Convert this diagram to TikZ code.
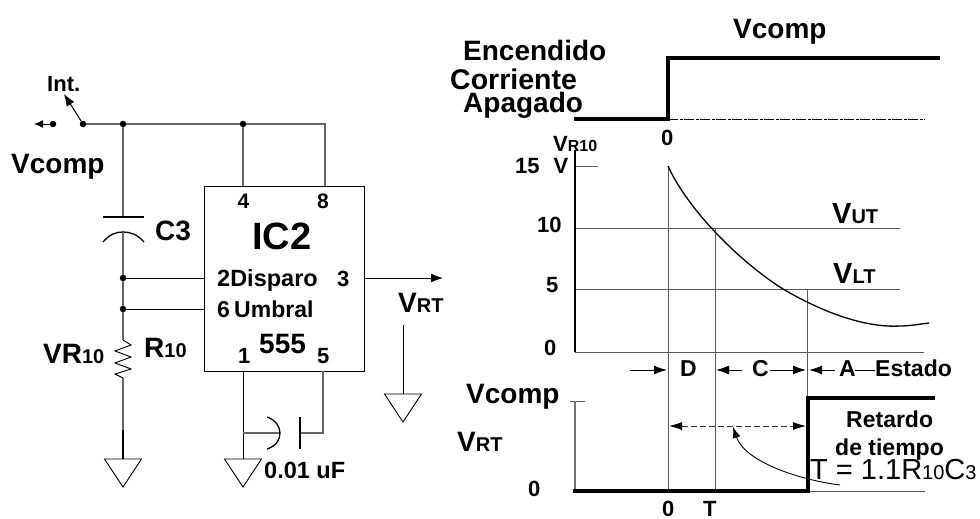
\documentclass[tikz,border=0pt]{standalone}
\usepackage{fontspec}
\setmainfont{Liberation Sans}
\usetikzlibrary{arrows.meta,decorations.pathmorphing}
\newcommand{\fs}[1]{\fontsize{#1}{#1}\selectfont}
\newcommand{\sm}[1]{{\fs{20}#1}}
\tikzset{
 lbl/.style={anchor=base west,inner sep=0pt,font=\fs{#1}\bfseries},
 lbl/.default=23,
 reg/.style={anchor=base west,inner sep=0pt,font=\fs{#1}},
 wire/.style={line width=1pt,black},
 gwire/.style={line width=1.4pt,black!60},
 grid line/.style={line width=0.8pt,black!65},
 heavy/.style={line width=3.5pt,black,line join=miter},
 tipped/.style={line width=1pt,-{Latex[length=13pt,width=9pt]}},
 smalltip/.style={line width=1pt,-{Latex[length=9pt,width=8pt]}},
 joint/.style={circle,fill=black,inner sep=0pt,minimum size=6.5pt},
 gnd/.style={line width=0.9pt,black,line join=miter},
}
\newcommand{\ground}[2]{\draw[gnd] (#1-18.5,#2) -- (#1+18.5,#2) -- (#1,#2+28) -- cycle;}
\begin{document}
\begin{tikzpicture}[x=1pt,y=-1pt]
\useasboundingbox (0,0) rectangle (980,519);
% --- circuit
\node[draw,wire,inner sep=0pt,anchor=north west,minimum width=160pt,minimum height=185pt] (ic) at (204,186) {};
\node[joint] (sa) at (53,124) {};
\node[joint] (sb) at (83,124) {};
\node[joint] (ja) at (123,124) {};
\node[joint] (jb) at (243,124) {};
\coordinate (jc) at (325,124);
\node[joint] (jd) at (123,278) {};
\node[joint] (je) at (123,309) {};
\coordinate (sl) at (34,124);
\coordinate (st) at (64,94);
\draw[smalltip] (sa) -- (sl);
\draw[line width=1pt,-{Latex[length=12pt,width=9pt]}] (sb) -- (st);
\draw[gwire] (sb) -- (ja);
\draw[gwire] (ja) -- (jb);
\draw[gwire] (jb) -- (jc) -- (325,186);
\draw[gwire] (jb) -- (243,186);
% C3
\coordinate (cp) at (123,217);
\coordinate (cq) at (123,232);
\draw[gwire] (ja) -- (cp);
\draw[line width=1.3pt] (103,217) -- (144,217);
\draw[line width=1.3pt] (103,242) .. controls (110,234) and (116,232) .. (cq) .. controls (130,232) and (137,234) .. (144,242);
\draw[gwire] (cq) -- (jd);
\draw[gwire] (jd) -- (je);
\draw[wire] (jd) -- (204,278);
\draw[wire] (je) -- (204,309);
% R10
\coordinate (ra) at (123,340);
\coordinate (rb) at (123,378);
\draw[gwire] (je) -- (ra);
\draw[line width=0.9pt] (ra) -- (131,345) -- (115,351) -- (131,357) -- (115,363) -- (131,369) -- (115,374) -- (rb);
\draw[gwire] (rb) -- (123,430);
\draw[line width=1.6pt] (123,430) -- (123,459);
\ground{123}{459}
% pin 1, pin 5, C
\coordinate (p1) at (243,371);
\coordinate (p5) at (323,371);
\coordinate (g2) at (243,459);
\draw[wire] (p1) -- (g2);
\ground{243}{459}
\draw[gwire,line width=1.1pt] (p5) -- (323,433) -- (300,433);
\draw[gwire,line width=1.1pt] (243,433) -- (280,433);
\draw[line width=1.3pt] (300,417) -- (300,449);
\draw[line width=1.3pt] (267,417) .. controls (276,420) and (280,427) .. (280,433) .. controls (280,440) and (276,446) .. (267,449);
% output
\coordinate (oa) at (364,278);
\coordinate (ob) at (443,278);
\draw[wire,-{Latex[length=12pt,width=9pt]}] (oa) -- (ob);
\coordinate (ga) at (403,325);
\coordinate (gb) at (403,394);
\draw[wire] (ga) -- (gb);
\ground{403}{394}
% circuit labels
\node[lbl=22] (t1) at (47,92) {Int.};
\node[lbl=28] (t2) at (11,173) {Vcomp};
\node[lbl=28] (t3) at (155,240) {C3};
\node[lbl=21] (t4) at (237.5,208) {4};
\node[lbl=21] (t5) at (317,208) {8};
\node[lbl=38] (t6) at (252,249) {IC2};
\node[lbl=23.5] (t7) at (217,286) {2Disparo};
\node[lbl=22] (t8) at (337,286) {3};
\node[lbl=23] (t9) at (217,317) {6};
\node[lbl=23] (t10) at (234,317) {Umbral};
\node[lbl=28] (t11) at (259,353) {555};
\node[lbl=22] (t12) at (238,363) {1};
\node[lbl=22] (t13) at (317,363) {5};
\node[lbl=28] (t14) at (43,363) {VR\sm{10}};
\node[lbl=28] (t15) at (144,357) {R\sm{10}};
\node[lbl=28] (t16) at (398,312) {V\sm{RT}};
\node[lbl=23.5] (t17) at (264,478) {0.01 uF};
% --- top waveform
\coordinate (wa) at (574,119);
\coordinate (wb) at (668,119);
\coordinate (wc) at (668,58);
\coordinate (wd) at (940,58);
\coordinate (we) at (925,119);
\draw[line width=0.8pt,dash pattern=on 10pt off 1.5pt on 3pt off 1.5pt] (wb) -- (we);
\draw[heavy] (wa) -- (wb) -- (wc) -- (wd);
\node[lbl=28] (u1) at (733,39) {Vcomp};
\node[lbl=28] (u2) at (463,60) {Encendido};
\node[lbl=28.5] (u3) at (450,89) {Corriente};
\node[lbl=28] (u4) at (463,112) {Apagado};
\node[lbl=22] (u5) at (661,145) {0};
% --- chart
\coordinate (ax) at (575,150);
\coordinate (ao) at (575,352);
\coordinate (az) at (924,352);
\coordinate (h10a) at (575,228);
\coordinate (h10b) at (900,228);
\coordinate (h5a) at (575,289);
\coordinate (h5b) at (900,289);
\coordinate (tk) at (598,166);
\coordinate (tl) at (575,166);
\coordinate (v0) at (668,166);
\coordinate (v0b) at (668,491);
\coordinate (vt) at (715,228);
\coordinate (vtb) at (715,491);
\coordinate (va) at (807,289);
\coordinate (vab) at (807,398);
\draw[grid line] (h10a) -- (h10b);
\draw[grid line] (h5a) -- (h5b);
\draw[grid line] (ao) -- (az);
\draw[grid line] (tl) -- (tk);
\draw[grid line] (v0) -- (v0b);
\draw[grid line] (vt) -- (vtb);
\draw[grid line] (va) -- (vab);
\draw[line width=1.6pt] (ax) -- (ao);
\draw[line width=1.3pt] (v0) .. controls (688,210) and (740,262) .. (783,289) .. controls (822,312) and (865,328) .. (900,326) .. controls (910,326) and (920,324) .. (929,323);
\node[lbl=22] (c1) at (553,151) {V\fs{16}R10};
\node[lbl=22] (c2) at (515,173) {15\hspace{14pt}V};
\node[lbl=22] (c3) at (537,232) {10};
\node[lbl=22] (c4) at (546,292) {5};
\node[lbl=22] (c5) at (544,355) {0};
\node[lbl=29] (c6) at (832,223) {V\sm{UT}};
\node[lbl=29] (c7) at (833,283) {V\sm{LT}};
% --- state row
\coordinate (r1) at (630,370);
\coordinate (r2) at (667,370);
\coordinate (r3) at (742,370);
\coordinate (r4) at (716,370);
\coordinate (r5) at (770,370);
\coordinate (r6) at (806,370);
\coordinate (r7) at (835,370);
\coordinate (r8) at (809,370);
\coordinate (r9) at (855,370);
\coordinate (r10) at (875,370);
\draw[tipped] (r1) -- (r2);
\draw[tipped] (r3) -- (r4);
\draw[tipped] (r5) -- (r6);
\draw[tipped] (r7) -- (r8);
\draw[wire] (r9) -- (r10);
\node[lbl=23] (d1) at (680,376) {D};
\node[lbl=23] (d2) at (752,376) {C};
\node[lbl=23] (d3) at (839,376) {A};
\node[lbl=23] (d4) at (875,376) {Estado};
% --- lower waveform
\coordinate (la) at (575,401);
\coordinate (lt) at (585,401);
\coordinate (ls) at (570,401);
\coordinate (lo) at (575,491);
\coordinate (lz) at (573,491);
\coordinate (lc) at (808,491);
\coordinate (ld) at (808,398);
\coordinate (le) at (935,398);
\coordinate (lf) at (925,491);
\draw[grid line] (ls) -- (lt);
\draw[line width=1.3pt,black!55] (la) -- (lo);
\draw[grid line] (lc) -- (lf);
\draw[heavy] (lz) -- (lc) -- (ld) -- (le);
\coordinate (da) at (669,426);
\coordinate (db) at (806,426);
\draw[line width=0.8pt,dash pattern=on 6pt off 3pt,black!80,{Latex[length=13pt,width=8pt,black]}-{Latex[length=13pt,width=8pt,black]}] (da) -- (db);
\coordinate (ca) at (840,485);
\coordinate (cb) at (733,427);
\draw[line width=0.9pt,-{Latex[length=11pt,width=8pt]}] (ca) .. controls (800,480) and (745,462) .. (cb);
\node[lbl=28] (e1) at (466,403) {Vcomp};
\node[lbl=28] (e2) at (457,451) {V\sm{RT}};
\node[lbl=22] (e3) at (528,496) {0};
\node[lbl=22] (e4) at (662,516.5) {0};
\node[lbl=22] (e5) at (703,516.5) {T};
\node[lbl=23] (e6) at (846,427) {Retardo};
\node[lbl=23] (e7) at (835,455) {de tiempo};
\node[reg=29] (e8) at (810,479) {T = 1.1R\sm{10}C\sm{3}};
\end{tikzpicture}
\end{document}
